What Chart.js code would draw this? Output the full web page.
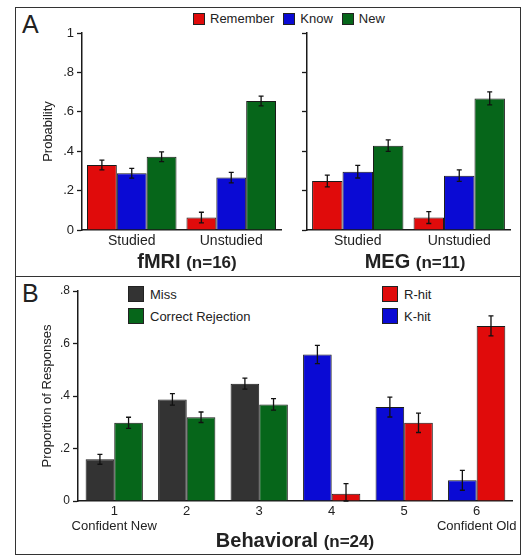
<!DOCTYPE html>
<html>
<head>
<meta charset="utf-8">
<script src="https://cdn.jsdelivr.net/npm/chart.js@4"></script>
<style>
  body { margin: 0; background: #fff; font-family: "Liberation Sans", Arial, sans-serif; color: #222; }
  #page { position: relative; width: 525px; height: 557px; overflow: hidden; }
  #frame { position: absolute; left: 15px; top: 7px; width: 504px; height: 546px; border: 1.5px solid #333; }
  #divider { position: absolute; left: 15px; top: 276px; width: 506px; height: 0; border-top: 1.5px solid #333; }
  canvas { position: absolute; }
  .panel { position: absolute; font-size: 25px; line-height: 1.15; }
  .title { position: absolute; text-align: center; font-weight: bold; white-space: nowrap; }
  .title span { font-size: 17px; }
  .legend { position: absolute; display: flex; font-size: 13px; align-items: center; }
  .legend i { display: inline-block; width: 10px; height: 10px; border: 1px solid #222; margin-right: 5px; }
  .legend div { display: flex; align-items: center; margin-right: 9px; }
  .legend2 { position: absolute; font-size: 13px; }
  .legend2 div { display: flex; align-items: center; height: 22px; }
  .legend2 i { display: inline-block; width: 14px; height: 14px; border: 1px solid #222; margin-right: 6px; }
</style>
</head>
<body>
<div id="page">
  <div id="frame"></div>
  <div id="divider"></div>
  <div class="panel" style="left:22px; top:10px;">A</div>
  <div class="panel" style="left:22px; top:279px;">B</div>
  <div class="legend" id="legendA" style="left:193px; top:11px;"></div>
  <div class="legend2" id="legendB1" style="left:128px; top:283px;"></div>
  <div class="legend2" id="legendB2" style="left:382px; top:283px;"></div>
  <canvas id="fmri" width="270" height="233" style="left:16px; top:22px;"></canvas>
  <canvas id="meg" width="232" height="233" style="left:288px; top:22px;"></canvas>
  <canvas id="behav" width="504" height="256" style="left:16px; top:280px;"></canvas>
  <div class="title" style="left:87px; width:200px; top:250px; font-size:20px;">fMRI <span>(n=16)</span></div>
  <div class="title" style="left:315px; width:200px; top:250px; font-size:20px;">MEG <span>(n=11)</span></div>
  <div class="title" style="left:195px; width:200px; top:529px; font-size:20px;">Behavioral <span>(n=24)</span></div>
</div>
<script>
// Panel A data
const conditions = ["Studied", "Unstudied"];
const responseTypes = ["Remember", "Know", "New"];
const fmriRemember = [0.330, 0.063];
const fmriKnow = [0.288, 0.266];
const fmriNew = [0.372, 0.655];
const fmriRememberErr = [0.025, 0.027];
const fmriKnowErr = [0.025, 0.027];
const fmriNewErr = [0.025, 0.025];
const megRemember = [0.249, 0.063];
const megKnow = [0.296, 0.276];
const megNew = [0.428, 0.668];
const megRememberErr = [0.030, 0.030];
const megKnowErr = [0.032, 0.029];
const megNewErr = [0.029, 0.033];
const probTicks = ["0", ".2", ".4", ".6", ".8", "1"];

// Panel B data
const ratings = ["1", "2", "3", "4", "5", "6"];
const ratingNotes = ["Confident New", "", "", "", "", "Confident Old"];
const behavSeries = ["Miss", "Correct Rejection", "K-hit", "R-hit"];
const missProp = [0.159, 0.387, 0.447, null, null, null];
const missErr = [0.019, 0.022, 0.021, null, null, null];
const crProp = [0.298, 0.319, 0.368, null, null, null];
const crErr = [0.021, 0.020, 0.022, null, null, null];
const kHitProp = [null, null, null, 0.558, 0.358, 0.079];
const kHitErr = [null, null, null, 0.035, 0.038, 0.038];
const rHitProp = [null, null, null, 0.028, 0.298, 0.667];
const rHitErr = [null, null, null, 0.038, 0.037, 0.038];
const propTicks = ["0", ".2", ".4", ".6", ".8"];

const RED = "#e00b0b";
const BLUE = "#0a0ad4";
const GREEN = "#06661a";
const GREY = "#333333";
const INK = "#1a1a1a";

Chart.defaults.font.family = '"Liberation Sans", Arial, sans-serif';
Chart.defaults.color = "#222";
Chart.defaults.animation = false;

// draws +/- error whiskers on top of each bar
const errorBars = {
    id: "errorBars",
    afterDatasetsDraw(chart) {
        const ctx = chart.ctx;
        const yScale = chart.scales.y;
        ctx.save();
        ctx.strokeStyle = "#111";
        ctx.lineWidth = 1.3;
        chart.data.datasets.forEach((ds, i) => {
            if (!ds.errors) return;
            const meta = chart.getDatasetMeta(i);
            meta.data.forEach((bar, j) => {
                const v = ds.data[j];
                const e = ds.errors[j];
                if (v == null || e == null) return;
                const top = yScale.getPixelForValue(v + e);
                const bottom = yScale.getPixelForValue(Math.max(0, v - e));
                const x = bar.x;
                ctx.beginPath();
                ctx.moveTo(x, top);
                ctx.lineTo(x, bottom);
                ctx.moveTo(x - 2.5, top);
                ctx.lineTo(x + 2.5, top);
                ctx.moveTo(x - 2.5, bottom);
                ctx.lineTo(x + 2.5, bottom);
                ctx.stroke();
            });
        });
        ctx.restore();
    },
};

function barSet(label, data, errors, color) {
    return {
        label: label,
        data: data,
        errors: errors,
        backgroundColor: color,
        borderColor: INK,
        borderWidth: 1,
        categoryPercentage: 0.9,
        barPercentage: 1.0,
    };
}

function yAxis(max, labels, opts) {
    return {
        min: 0,
        max: max,
        afterFit: (s) => { s.width = opts.width; },
        ticks: {
            display: opts.showLabels,
            stepSize: 0.2,
            padding: 3,
            font: { size: opts.tickSize || 12 },
            callback: (v, i) => labels[i],
        },
        grid: { display: true, drawOnChartArea: false, drawTicks: true, tickLength: 5, tickColor: INK, tickWidth: 1.3 },
        border: { display: true, color: INK, width: 1.5 },
        title: {
            display: !!opts.title,
            text: opts.title,
            font: { size: 13 },
            padding: { top: 1, bottom: 1 },
        },
    };
}

function xAxis(height, size) {
    return {
        afterFit: (s) => { s.height = height; },
        grid: { display: false, drawTicks: false },
        border: { display: true, color: INK, width: 1.5 },
        ticks: { padding: 3, font: { size: size }, maxRotation: 0, autoSkip: false },
    };
}

// Gráfico fMRI
new Chart(document.getElementById("fmri"), {
    type: "bar",
    data: {
        labels: conditions,
        datasets: [
            barSet(responseTypes[0], fmriRemember, fmriRememberErr, RED),
            barSet(responseTypes[1], fmriKnow, fmriKnowErr, BLUE),
            barSet(responseTypes[2], fmriNew, fmriNewErr, GREEN),
        ],
    },
    options: {
        responsive: false,
        layout: { padding: { left: 24, top: 11, right: 5, bottom: 0 } },
        plugins: { legend: { display: false }, tooltip: { enabled: false } },
        scales: {
            x: xAxis(25, 14),
            y: yAxis(1, probTicks, { width: 42, showLabels: true, title: "Probability", tickSize: 13 }),
        },
    },
    plugins: [errorBars],
});

// Gráfico MEG
new Chart(document.getElementById("meg"), {
    type: "bar",
    data: {
        labels: conditions,
        datasets: [
            barSet(responseTypes[0], megRemember, megRememberErr, RED),
            barSet(responseTypes[1], megKnow, megKnowErr, BLUE),
            barSet(responseTypes[2], megNew, megNewErr, GREEN),
        ],
    },
    options: {
        responsive: false,
        layout: { padding: { left: 0, top: 11, right: 10, bottom: 0 } },
        plugins: { legend: { display: false }, tooltip: { enabled: false } },
        scales: {
            x: xAxis(25, 14),
            y: yAxis(1, probTicks, { width: 19, showLabels: false, title: "" }),
        },
    },
    plugins: [errorBars],
});

// Gráfico comportamental
const behavSets = [
    barSet(behavSeries[0], missProp, missErr, GREY),
    barSet(behavSeries[1], crProp, crErr, GREEN),
    barSet(behavSeries[2], kHitProp, kHitErr, BLUE),
    barSet(behavSeries[3], rHitProp, rHitErr, RED),
];
behavSets.forEach((ds) => { ds.categoryPercentage = 0.79; });

const behavX = xAxis(35, 13);
behavX.ticks.font = { size: 13, lineHeight: 1.15 };

new Chart(document.getElementById("behav"), {
    type: "bar",
    data: {
        labels: ratings.map((r, i) => (ratingNotes[i] ? [r, ratingNotes[i]] : r)),
        datasets: behavSets,
    },
    options: {
        responsive: false,
        skipNull: true,
        layout: { padding: { left: 23, top: 11, right: 7, bottom: 0 } },
        plugins: { legend: { display: false }, tooltip: { enabled: false } },
        scales: {
            x: behavX,
            y: yAxis(0.8, propTicks, { width: 39, showLabels: true, title: "Proportion of Responses" }),
        },
    },
    plugins: [errorBars],
});

// legends
const legendA = document.getElementById("legendA");
[RED, BLUE, GREEN].forEach((c, i) => {
    const d = document.createElement("div");
    d.innerHTML = '<i style="background:' + c + '"></i>' + responseTypes[i];
    legendA.appendChild(d);
});
function legendRow(target, name, color) {
    const d = document.createElement("div");
    d.innerHTML = '<i style="background:' + color + '"></i>' + name;
    document.getElementById(target).appendChild(d);
}
legendRow("legendB1", behavSeries[0], GREY);
legendRow("legendB1", behavSeries[1], GREEN);
legendRow("legendB2", behavSeries[3], RED);
legendRow("legendB2", behavSeries[2], BLUE);
</script>
</body>
</html>
